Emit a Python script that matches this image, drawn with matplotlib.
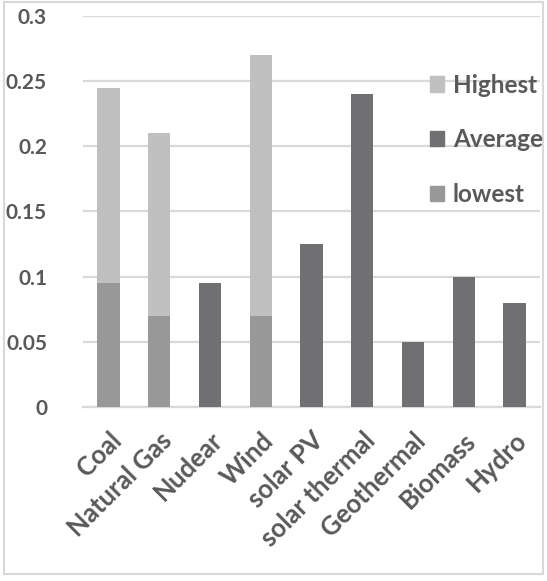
import matplotlib.pyplot as plt
from matplotlib.patches import Rectangle, Patch

# Values
sources = ['Coal', 'Natural Gas', 'Nudear', 'Wind', 'solar PV', 'solar thermal',
           'Geothermal', 'Biomass', 'Hydro']
lowest = [0.095, 0.07, 0, 0.07, 0, 0, 0, 0, 0]
highest = [0.245, 0.21, 0, 0.27, 0, 0, 0, 0, 0]
average = [0, 0, 0.095, 0, 0.125, 0.24, 0.05, 0.10, 0.08]
yticks = [0, 0.05, 0.1, 0.15, 0.2, 0.25, 0.3]
ytick_labels = ['0', '0.05', '0.1', '0.15', '0.2', '0.25', '0.3']

c_low = '#989898'
c_high = '#c0c0c0'
c_avg = '#707072'
text_color = '#595959'
grid_color = '#d9d9d9'


def main():
    plt.rcParams['font.family'] = ['Lato', 'DejaVu Sans']
    plt.rcParams['font.weight'] = 'bold'
    fig = plt.figure(figsize=(5.47, 5.81), dpi=100)
    ax = fig.add_axes([0.152, 0.2995, 0.835, 0.673])

    x = list(range(len(sources)))
    # highest drawn as the part above lowest
    upper = [h - l if h else 0 for h, l in zip(highest, lowest)]
    ax.bar(x, lowest, width=0.44, color=c_low, zorder=3)
    ax.bar(x, upper, bottom=lowest, width=0.44, color=c_high, zorder=3)
    ax.bar(x, average, width=0.44, color=c_avg, zorder=3)

    ax.set_xlim(-0.5, len(sources) - 0.5)
    ax.set_ylim(0, 0.3)
    ax.set_yticks(yticks)
    ax.set_yticklabels(ytick_labels, fontweight='bold')
    ax.yaxis.grid(True, color=grid_color, linewidth=1.6, zorder=0)
    for side in ['top', 'right', 'left']:
        ax.spines[side].set_visible(False)
    ax.spines['bottom'].set_color(grid_color)
    ax.spines['bottom'].set_linewidth(1.6)
    ax.tick_params(axis='y', length=0, pad=26, labelsize=15, labelcolor=text_color)
    ax.tick_params(axis='x', length=0, pad=15, labelsize=18.5, labelcolor=text_color)
    ax.set_xticks(x)
    ax.set_xticklabels(sources, rotation=45, ha='right', rotation_mode='anchor',
                       fontweight='bold')

    handles = [Patch(color=c_high, label='Highest'),
               Patch(color=c_avg, label='Average'),
               Patch(color=c_low, label='lowest')]
    leg = fig.legend(handles=handles, loc='upper left', bbox_to_anchor=(0.768, 0.89),
                     frameon=False, fontsize=17.5, labelspacing=1.3,
                     handlelength=0.6, handleheight=0.6, handletextpad=0.35,
                     borderaxespad=0)
    for t in leg.get_texts():
        t.set_color(text_color)

    # light border around the chart area
    fig.patches.append(Rectangle((0.008, 0.012), 0.985, 0.985, transform=fig.transFigure,
                                 fill=False, edgecolor=grid_color, linewidth=1.5))

    fig.savefig('out.png', dpi=100)


if __name__ == "__main__":
    main()
